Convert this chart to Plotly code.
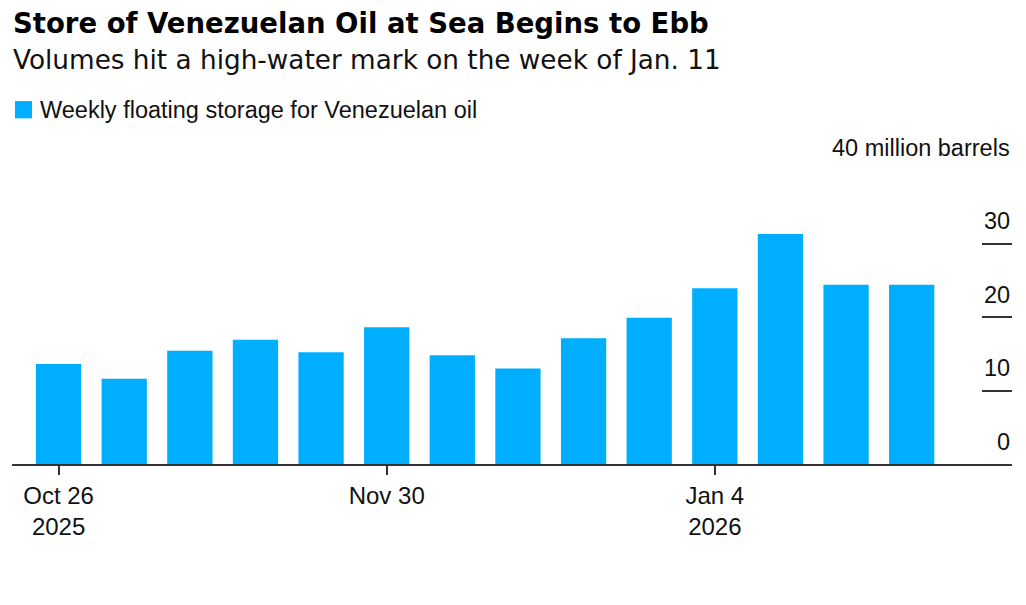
import pandas as pd
import plotly.graph_objects as go

# ---- data ----
week_start = pd.date_range("2025-10-26", periods=14, freq="7D")
storage_mb = [13.6, 11.6, 15.4, 16.9, 15.2, 18.6, 14.8, 13.0, 17.1, 19.9, 23.9, 31.3, 24.4, 24.4]
x_tick_vals = ["2025-10-26", "2025-11-30", "2026-01-04"]
x_tick_text = ["Oct 26<br>2025", "Nov 30", "Jan 4<br>2026"]
y_tick_vals = [0, 10, 20, 30, 40]
y_tick_text = ["0", "10", "20", "30", "40 million barrels"]
series_name = "Weekly floating storage for Venezuelan oil"
title = "Store of Venezuelan Oil at Sea Begins to Ebb"
subtitle = "Volumes hit a high-water mark on the week of Jan. 11"

W, H = 1026, 605
PLOT_L, PLOT_R = 12, 1012
PLOT_TOP, PLOT_BOT = 170, 464.3
FONT = "Liberation Sans, Arial, Helvetica, sans-serif"
HEAD_FONT = "DejaVu Sans, sans-serif"
BLUE = "#00aeff"
AX = "#333333"
TXT = "#111111"


def py(pix):
    """pixel row -> paper y"""
    return (PLOT_BOT - pix) / (PLOT_BOT - PLOT_TOP)


def px(pix):
    """pixel column -> paper x"""
    return (pix - PLOT_L) / (PLOT_R - PLOT_L)


x_lo = week_start[0] - pd.Timedelta(days=4.97)
x_hi = week_start[0] + pd.Timedelta(days=101.7)

fig = go.Figure()
fig.add_trace(go.Bar(
    x=week_start, y=storage_mb, name=series_name,
    marker=dict(color=BLUE, line=dict(width=0)),
    showlegend=False,
))

annotations = [
    dict(text=f"<b>{title}</b>", xref="paper", yref="paper", x=px(11), y=py(22.5),
         xanchor="left", yanchor="middle", showarrow=False,
         font=dict(family=HEAD_FONT, size=27.5, color="#000000")),
    dict(text=subtitle, xref="paper", yref="paper", x=px(11), y=py(59.5),
         xanchor="left", yanchor="middle", showarrow=False,
         font=dict(family=HEAD_FONT, size=26.3, color=TXT)),
    dict(text=series_name, xref="paper", yref="paper", x=px(38), y=py(110),
         xanchor="left", yanchor="middle", showarrow=False,
         font=dict(size=23.5, color=TXT)),
]
for v, t in zip(y_tick_vals, y_tick_text):
    annotations.append(dict(
        text=t, xref="paper", yref="y", x=1.0, y=v, xanchor="right", yanchor="middle",
        yshift=22.5, showarrow=False, font=dict(size=23.5, color=TXT),
    ))

fig.update_layout(
    width=W, height=H,
    margin=dict(l=PLOT_L, r=W - PLOT_R, t=PLOT_TOP, b=H - PLOT_BOT, autoexpand=False),
    paper_bgcolor="white", plot_bgcolor="white",
    font=dict(family=FONT, color=TXT),
    bargap=0.31,
    showlegend=False,
    hovermode=False,
    xaxis=dict(
        type="date", range=[x_lo, x_hi], automargin=False, fixedrange=True,
        tickvals=x_tick_vals, ticktext=x_tick_text,
        showgrid=False, zeroline=False,
        showline=True, linecolor=AX, linewidth=1.5,
        ticks="outside", ticklen=9, tickwidth=1.5, tickcolor=AX,
        tickfont=dict(size=24, color=TXT),
    ),
    yaxis=dict(
        range=[0, 40], side="right", automargin=False, fixedrange=True,
        tickvals=y_tick_vals, showticklabels=False,
        showgrid=False, zeroline=False, showline=False,
        ticks="inside", ticklen=30, tickwidth=1.5, tickcolor=AX,
    ),
    shapes=[
        dict(type="rect", xref="paper", yref="paper",
             x0=px(15), x1=px(32), y0=py(118.3), y1=py(101),
             fillcolor=BLUE, line=dict(width=0)),
    ],
    annotations=annotations,
)

fig.write_html(
    "out.html",
    config={"displayModeBar": False, "staticPlot": False},
    post_script="document.body.style.margin='0';document.body.style.overflow='hidden';",
)
